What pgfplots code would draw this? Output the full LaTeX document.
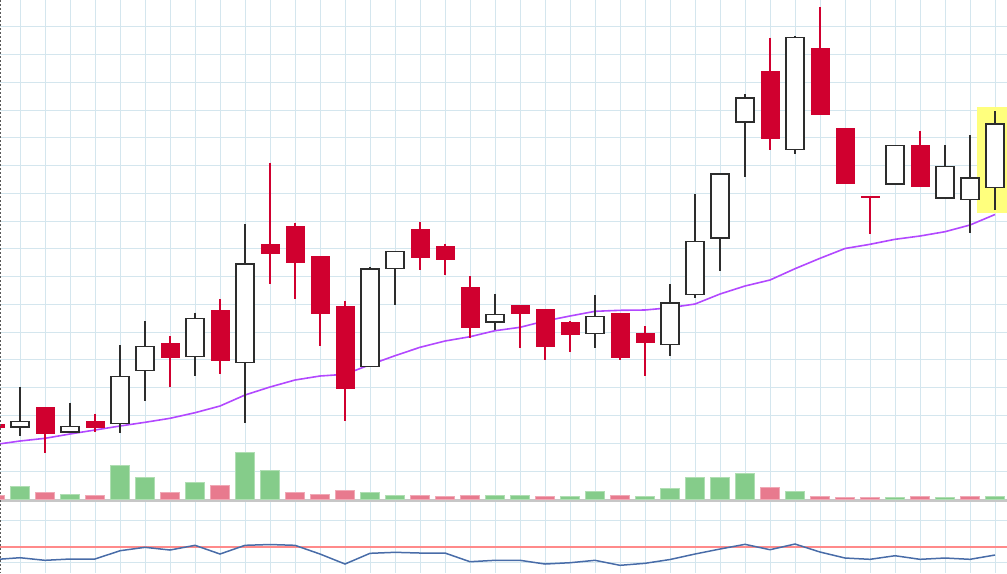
\documentclass[border=0pt]{standalone}
\usepackage{pgfplots}
\usepackage{pgfplotstable}
\pgfplotsset{compat=1.18}
\definecolor{gridc}{RGB}{212,230,238}
\definecolor{dnred}{RGB}{208,0,47}
\definecolor{hollowc}{RGB}{45,45,45}
\definecolor{volg}{RGB}{133,204,138}
\definecolor{volr}{RGB}{232,122,142}
\definecolor{maline}{RGB}{178,72,255}
\definecolor{indblue}{RGB}{72,108,168}
\definecolor{indred}{RGB}{255,138,138}
\definecolor{hl}{RGB}{255,255,125}

% candles: i, high, body top, body bottom, low (all in pixel rows from top), up=hollow
\pgfplotstableread{
i  h     t     b     l     up
-1 424   424   427.5 427.5 0
0  387.3 421.3 427   436   1
1  407.3 407.3 433.3 453.3 0
2  402.5 426.5 432   432   1
3  413.7 421.3 427   431.7 0
4  345.3 376.7 423.3 433.3 1
5  321.3 346.7 370.3 400.7 1
6  336.3 343.7 357   387.3 0
7  312.5 318.3 356.7 376   1
8  299   310.3 360.7 374.3 0
9  224   264   362.7 423.3 1
10 162.7 244   253.3 284.3 0
11 223.3 226   262   299.3 0
12 256.7 256.7 313.3 346   0
13 300.7 306   388.3 420.7 0
14 266.7 269   366.7 366.7 1
15 251.7 251.7 268.3 304.7 1
16 222.3 229   257.3 270   0
17 243.7 246.3 259.7 275   0
18 276.3 287.7 327.3 338.3 0
19 293.7 314.3 322   330   1
20 305.3 305.3 313.3 348.3 0
21 309   309   346.7 360   0
22 321   322.7 334.3 352.3 0
23 295   316.3 333.3 348.3 1
24 313.7 313.7 357.3 360   0
25 326   333.7 342.3 376   0
26 284   303   344.3 356   1
27 193.7 241.7 294.3 298   1
28 174   174   238   271   1
29 94    98    122   177   1
30 37.7  71.3  138   149.7 0
31 36    37.7  149.3 154.3 1
32 7.3   48.7  114.3 114.3 0
33 128.7 128.7 183.3 183.3 0
34 195.8 195.8 197.6 234.3 0
35 145.3 145.3 184   184   1
36 131.3 145   186   186   0
37 145   166.7 198   198   1
38 135   178   199.3 233.3 1
39 111   124   187.7 210   1
}\candles

% moving average and lower indicator (pixel rows from top)
\pgfplotstableread{
i  ma    ind
-1 444.5 559.5
0  441   557.7
1  438.3 560.3
2  434   559
3  430   559
4  426   550.7
5  422.3 547.3
6  418.3 550
7  412.7 545.3
8  406   554
9  395   545.3
10 387   544.5
11 380   545.3
12 376   554
13 374.3 564
14 364.7 553.3
15 355.7 552.3
16 347.3 553
17 341   553
18 336.7 561.7
19 330.7 560.3
20 327.3 560.3
21 321   564
22 316   562.7
23 311.3 560.3
24 310.3 565.3
25 310   563.3
26 307.7 559.5
27 304   554
28 294   549
29 286   544.3
30 280   549.7
31 268.7 544
32 258.3 552
33 248.5 558
34 244.3 559.3
35 239.3 555.7
36 236   559.3
37 231.7 558
38 225   559.3
39 214.5 555
}\lines

% volume (height above base)
\pgfplotstableread{
i  v
0  13.2
2  5.5
4  34.2
5  21.8
7  16.8
9  47.2
10 29.5
14 6.8
15 4.5
19 4.5
20 4.5
22 3.2
23 8.5
25 3.2
26 10.8
27 22.2
28 22.2
29 25.8
31 8.5
35 2.2
37 2.2
39 3.2
}\volG
\pgfplotstableread{
i  v
-1 4.5
1  6.8
3  4.2
6  6.8
8  14.2
11 6.8
12 5.5
13 9.5
16 4.5
17 3.2
18 4.5
21 3.2
24 4.5
30 12.2
32 3.2
33 2.2
34 2.2
36 3.2
38 3.2
}\volR

\pgfplotsset{
  wick1/.style={hollowc, line width=1.4bp, mark=none},
  wick0/.style={dnred, line width=1.3bp, mark=none},
  body1/.style={draw=hollowc, fill=white, line width=1.4bp, mark=none},
  body0/.style={draw=dnred, fill=dnred, line width=0.5bp, mark=none},
}

\begin{document}
\begin{tikzpicture}
\begin{axis}[
  name=main,
  width=1007bp, height=573bp, scale only axis,
  xmin=-0.8, xmax=39.48, ymin=0, ymax=573, y dir=reverse,
  xtick={-1,0,...,39},
  ytick={26.7,54.5,82.2,110,137.8,165.6,193.3,221.1,248.9,276.6,304.4,332.2,359.9,387.7,415.5,443.3,471,520.7,562.7},
  xticklabels={}, yticklabels={},
  tick style={draw=none}, major tick length=0pt,
  grid=major, grid style={gridc, line width=0.9bp},
  axis line style={draw=none},
  clip=true,
]
% highlight of the last candle
\addplot[fill=hl, draw=none, mark=none] coordinates {(38.29,107.3) (39.6,107.3) (39.6,213.3) (38.29,213.3)} -- cycle;
% separator
\addplot[black!22, line width=2.5bp, mark=none] coordinates {(-0.8,500.6) (39.48,500.6)};
% moving average
\addplot[maline, line width=1.6bp, mark=none] table[x=i, y=ma]{\lines};
% candles
\pgfplotsinvokeforeach{0,...,40}{
  \pgfplotstablegetelem{#1}{i}\of\candles\let\ci\pgfplotsretval
  \pgfplotstablegetelem{#1}{h}\of\candles\let\ch\pgfplotsretval
  \pgfplotstablegetelem{#1}{t}\of\candles\let\ct\pgfplotsretval
  \pgfplotstablegetelem{#1}{b}\of\candles\let\cb\pgfplotsretval
  \pgfplotstablegetelem{#1}{l}\of\candles\let\cl\pgfplotsretval
  \pgfplotstablegetelem{#1}{up}\of\candles\let\cu\pgfplotsretval
  \ifnum\cu=1 \def\hw{0.358}\else\def\hw{0.366}\fi
  \pgfmathsetmacro\xl{\ci-\hw}
  \pgfmathsetmacro\xr{\ci+\hw}
  \edef\doplot{%
    \noexpand\addplot[wick\cu] coordinates {(\ci,\ch) (\ci,\cl)};
    \noexpand\addplot[body\cu] coordinates {(\xl,\ct) (\xr,\ct) (\xr,\cb) (\xl,\cb)} -- cycle;
  }\doplot
}
% lower indicator
\addplot[indred, line width=1.8bp, mark=none] coordinates {(-0.8,546.7) (39.48,546.7)};
\addplot[indblue, line width=1.5bp, mark=none] table[x=i, y=ind]{\lines};
% left dashed edge
\addplot[black!65, dash pattern=on 2bp off 2bp, line width=1.2bp, mark=none] coordinates {(-0.775,0) (-0.775,573)};
\end{axis}

\begin{axis}[
  at={(0bp,73.4bp)}, anchor=south west,
  width=1007bp, height=100bp, scale only axis,
  xmin=-0.8, xmax=39.48, ymin=0, ymax=100,
  hide axis, clip=true,
  ybar, bar width=18.4bp, bar shift=0pt,
]
\addplot[fill=volg, draw=volg!65!white, line width=0.8bp] table[x=i, y=v]{\volG};
\addplot[fill=volr, draw=volr!65!white, line width=0.8bp] table[x=i, y=v]{\volR};
\end{axis}
\pgfresetboundingbox
\useasboundingbox (main.south west) rectangle (main.north east);
\end{tikzpicture}
\end{document}
